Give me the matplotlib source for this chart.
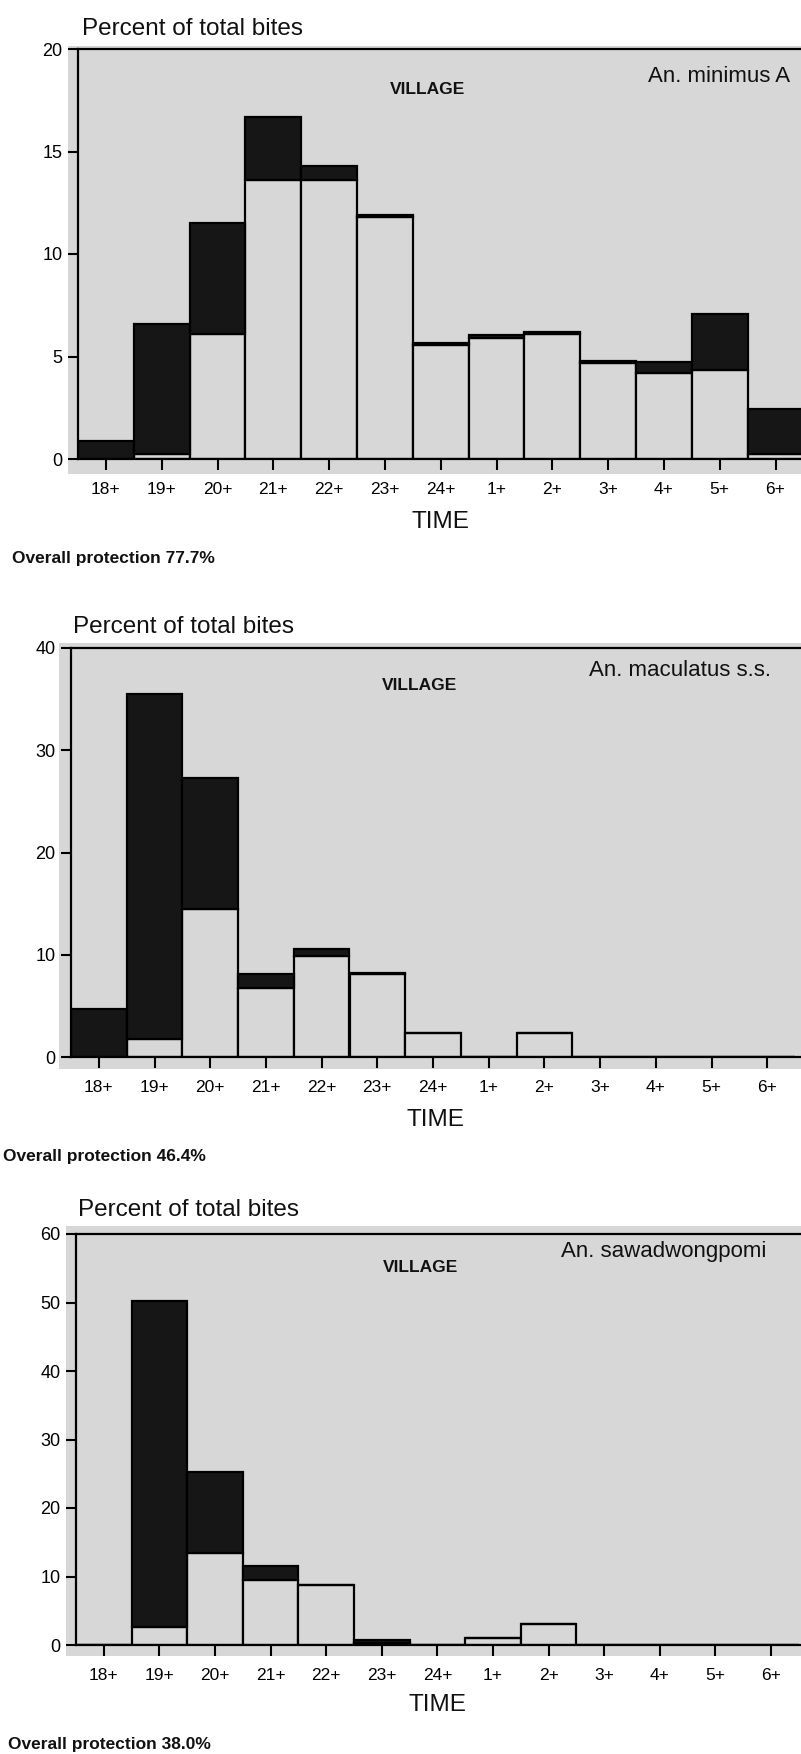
import matplotlib
matplotlib.use("Agg")
import matplotlib.pyplot as plt
from matplotlib.patches import Rectangle

plt.rcParams['font.family'] = ['Liberation Sans', 'DejaVu Sans']

# ---------------- data ----------------
times = ['18+', '19+', '20+', '21+', '22+', '23+', '24+', '1+', '2+', '3+', '4+', '5+', '6+']

minimus_total = [0.9, 6.6, 11.5, 16.7, 14.3, 11.9, 5.65, 6.05, 6.2, 4.8, 4.75, 7.05, 2.45]
minimus_lower = [0.0, 0.25, 6.1, 13.6, 13.6, 11.8, 5.55, 5.9, 6.1, 4.7, 4.2, 4.35, 0.25]

maculatus_total = [4.7, 35.5, 27.3, 8.1, 10.6, 8.2, 2.3, 0.0, 2.3, 0.0, 0.0, 0.0, 0.0]
maculatus_lower = [0.0, 1.8, 14.5, 6.7, 9.9, 8.1, 2.3, 0.0, 2.3, 0.0, 0.0, 0.0, 0.0]

sawad_total = [0.0, 50.2, 25.3, 11.6, 8.8, 0.7, 0.0, 1.05, 3.1, 0.0, 0.0, 0.0, 0.0]
sawad_lower = [0.0, 2.7, 13.5, 9.5, 8.8, 0.3, 0.0, 1.05, 3.1, 0.0, 0.0, 0.0, 0.0]

species = ['An. minimus A', 'An. maculatus s.s.', 'An. sawadwongpomi']
protection = ['Overall protection 77.7%', 'Overall protection 46.4%', 'Overall protection 38.0%']
ymax = [20, 40, 60]
ystep = [5, 10, 10]

# ---------------- layout (pixels) ----------------
W, H = 801, 1754
fig = plt.figure(figsize=(W / 100, H / 100), dpi=100)
fig.patch.set_facecolor('white')

def fx(x):
    return x / W

def fy(y):
    return 1 - y / H

GRAY = '#d7d7d7'
DARK = '#161616'

panels = [
    dict(left=78, top=49, bottom=459, gray=(68, 46, 474), ylab=(82, 29),
         sp=(790, 76), vil=(428, 89), time=(440, 522), prot=(12, 558), step=55.8),
    dict(left=71, top=648, bottom=1057, gray=(59, 643, 1069), ylab=(73, 627),
         sp=(771, 671), vil=(420, 685), time=(435, 1120), prot=(3, 1157), step=55.7),
    dict(left=76, top=1234, bottom=1645, gray=(66, 1226, 1656), ylab=(78, 1210),
         sp=(766, 1252), vil=(421, 1267), time=(437, 1705), prot=(8, 1744), step=55.6),
]

totals = [minimus_total, maculatus_total, sawad_total]
lowers = [minimus_lower, maculatus_lower, sawad_lower]

for i, p in enumerate(panels):
    gx, gt, gb = p['gray']
    fig.patches.append(Rectangle((fx(gx), fy(gb)), fx(W - gx) + 0.01, (gb - gt) / H,
                                 transform=fig.transFigure, facecolor=GRAY,
                                 edgecolor='none', zorder=-10))
    ax = fig.add_axes([fx(p['left']), fy(p['bottom']), fx(W - p['left']),
                       (p['bottom'] - p['top']) / H])
    ax.set_zorder(1)
    ax.set_facecolor('none')
    x = list(range(len(times)))
    lower = lowers[i]
    upper = [t - l for t, l in zip(totals[i], lower)]
    ax.bar(x, lower, width=1.0, color=GRAY, edgecolor='black', linewidth=1.6, zorder=2)
    ax.bar(x, upper, bottom=lower, width=1.0, color=DARK, edgecolor='black',
           linewidth=1.6, zorder=2)
    ax.set_xlim(-0.5, -0.5 + (W - p['left']) / p['step'])
    ax.set_ylim(0, ymax[i])
    ax.set_yticks(list(range(0, ymax[i] + 1, ystep[i])))
    ax.set_xticks(x)
    ax.set_xticklabels(times)
    ax.tick_params(axis='x', direction='out', length=8, width=1.5, pad=8.5,
                   labelsize=12.5, colors='black')
    ax.tick_params(axis='y', direction='out', length=7, width=1.5, pad=4,
                   labelsize=13, colors='black')
    for s in ['left', 'top', 'bottom']:
        ax.spines[s].set_linewidth(1.6)
        ax.spines[s].set_color('black')
    ax.spines['right'].set_visible(False)

    fig.text(fx(p['ylab'][0]), fy(p['ylab'][1]), 'Percent of total bites',
             fontsize=17.5, ha='left', va='center', color='#111111')
    fig.text(fx(p['sp'][0]), fy(p['sp'][1]), species[i], fontsize=16,
             ha='right', va='center', color='#111111')
    fig.text(fx(p['vil'][0]), fy(p['vil'][1]), 'VILLAGE', fontsize=12.5,
             fontweight='bold', ha='center', va='center', color='#111111')
    fig.text(fx(p['time'][0]), fy(p['time'][1]), 'TIME', fontsize=17.5,
             ha='center', va='center', color='#111111')
    fig.text(fx(p['prot'][0]), fy(p['prot'][1]), protection[i], fontsize=12.5,
             fontweight='bold', ha='left', va='center', color='#111111')

fig.savefig('out.png', dpi=100, facecolor='white')
